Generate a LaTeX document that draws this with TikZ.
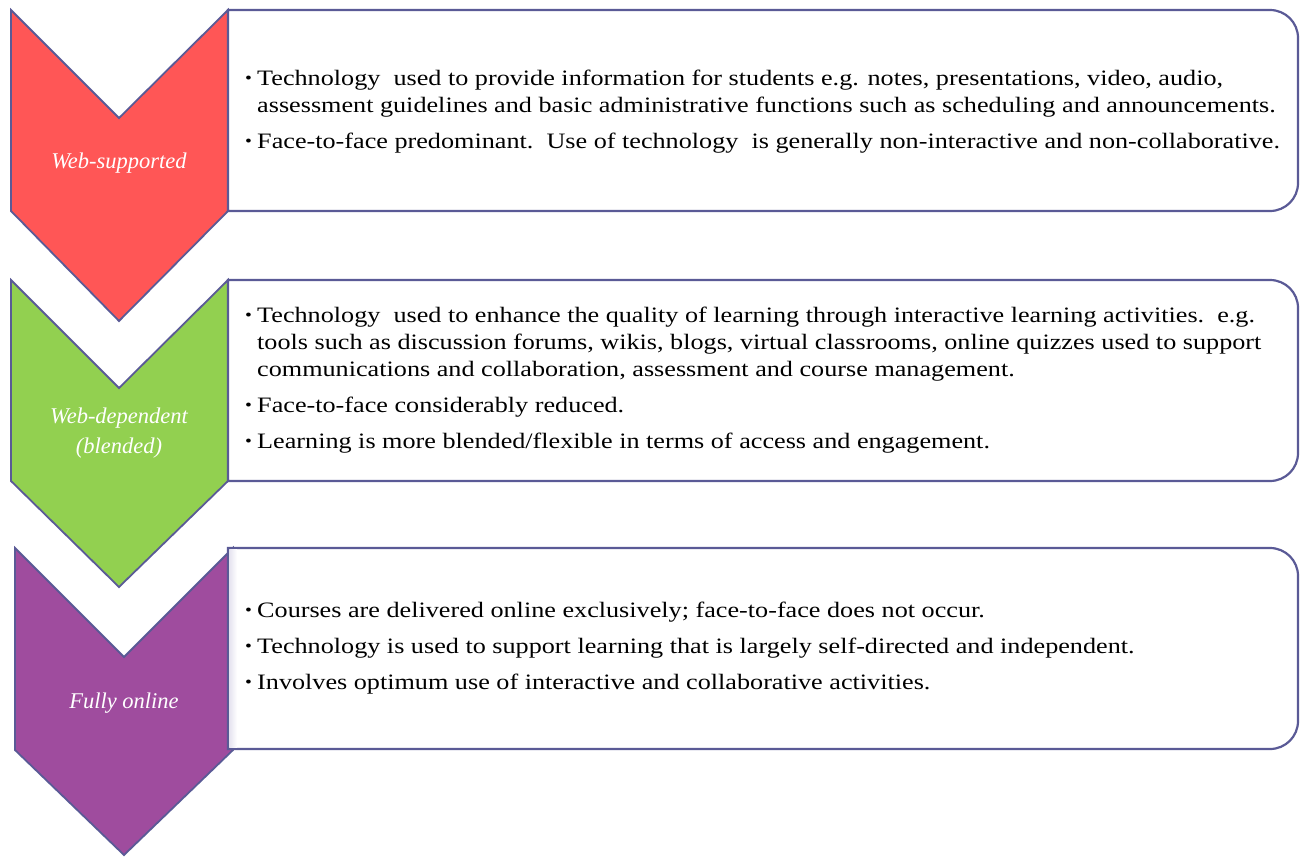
\documentclass[tikz,border=0pt]{standalone}
\usepackage{fontspec}
\setmainfont{Liberation Serif}
\newfontfamily\panelfont{Liberation Serif}[FakeStretch=1.19]
\definecolor{rimblue}{HTML}{5A5A96}
\definecolor{stagered}{HTML}{FF5656}
\definecolor{stagegreen}{HTML}{92D050}
\definecolor{stagepurple}{HTML}{9F4C9E}
\definecolor{shadelav}{HTML}{E6E4F0}
\newcommand\bulmark{\makebox[12pt][l]{\raisebox{1.5pt}{\scalebox{0.75}{\textbullet}}}}
\begin{document}
\begin{tikzpicture}[x=1pt,y=-1pt,
  chevron/.style={draw=rimblue,line width=1.8pt,line join=miter},
  infobox/.style={draw=rimblue,line width=2.2pt,fill=white},
  stagelabel/.style={text=white,font=\fontsize{22.5}{30}\selectfont\itshape,align=center,inner sep=0pt},
  itemline/.style={anchor=base west,inner sep=0pt,font=\fontsize{22}{27}\selectfont\panelfont}]
\useasboundingbox (0,0) rectangle (1301,857);

% chevrons (left column)
\draw[chevron,fill=stagered]    (11,10) -- (119,118) -- (228,10) -- (228,211) -- (119,321) -- (11,211) -- cycle;
\draw[chevron,fill=stagegreen]  (11,280) -- (119,388) -- (228,280) -- (228,481) -- (119,587) -- (11,481) -- cycle;
\draw[chevron,fill=stagepurple] (15,548) -- (124,657) -- (233,548) -- (233,750) -- (124,855) -- (15,750) -- cycle;

% text panels: square on the left, rounded on the right
\foreach \t/\b in {10/211, 280/481, 548/749}{
  \draw[infobox] (228,\t) -- (1270,\t)
    .. controls (1285.5,\t) and (1298,\t+12.5) .. (1298,\t+28)
    -- (1298,\b-28)
    .. controls (1298,\b-12.5) and (1285.5,\b) .. (1270,\b)
    -- (228,\b) -- cycle;
}
\shade[left color=shadelav,right color=white] (229.5,549.5) rectangle (237,747.5);

% stage labels
\node[stagelabel] (lab1) at (119,163) {Web-supported};
\node[stagelabel] (lab2) at (119,433) {Web-dependent\\(blended)};
\node[stagelabel] (lab3) at (124,703) {Fully online};

% first panel
\node[itemline] (p1a) at (245,85)  {\bulmark Technology\ \ used to provide information for students e.g. notes, presentations, video, audio,};
\node[itemline] (p1b) at (257,112) {assessment guidelines and basic administrative functions such as scheduling and announcements.};
\node[itemline] (p1c) at (245,148) {\bulmark Face-to-face predominant.\ \ Use of technology\ \ is generally non-interactive and non-collaborative.};

% second panel
\node[itemline] (p2a) at (245,322) {\bulmark Technology\ \ used to enhance the quality of learning through interactive learning activities.\ \ e.g.};
\node[itemline] (p2b) at (257,349) {tools such as discussion forums, wikis, blogs, virtual classrooms, online quizzes used to support};
\node[itemline] (p2c) at (257,376) {communications and collaboration, assessment and course management.};
\node[itemline] (p2d) at (245,412) {\bulmark Face-to-face considerably reduced.};
\node[itemline] (p2e) at (245,448) {\bulmark Learning is more blended/flexible in terms of access and engagement.};

% third panel
\node[itemline] (p3a) at (245,617) {\bulmark Courses are delivered online exclusively; face-to-face does not occur.};
\node[itemline] (p3b) at (245,653) {\bulmark Technology is used to support learning that is largely self-directed and independent.};
\node[itemline] (p3c) at (245,689) {\bulmark Involves optimum use of interactive and collaborative activities.};
\end{tikzpicture}
\end{document}
